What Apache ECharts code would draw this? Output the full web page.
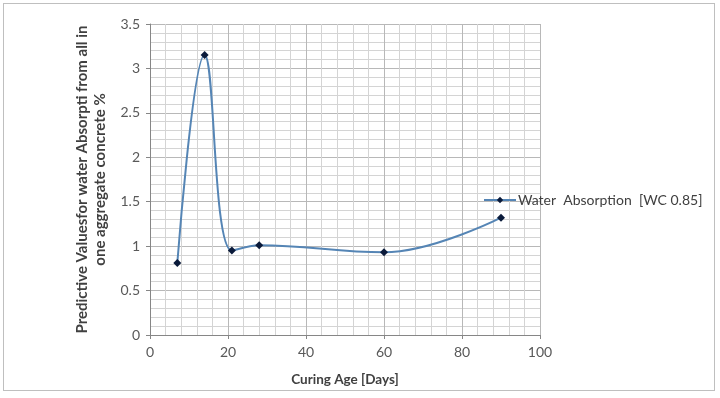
<!DOCTYPE html>
<html>
<head>
<meta charset="utf-8">
<script src="https://cdn.jsdelivr.net/npm/echarts@6/dist/echarts.min.js"></script>
<style>
  html, body { margin: 0; padding: 0; background: #fff; }
  #frame { position: absolute; left: 3px; top: 3px; width: 712px; height: 388px; border: 1px solid #bfbfbf; box-sizing: border-box; }
  #chart { width: 720px; height: 398px; }
</style>
</head>
<body>
<div id="frame"></div>
<div id="chart"></div>
<script>
// Curing age (days) and predicted water absorption (%)
const curingDays = [7, 14, 21, 28, 60, 90]
const absorption = [0.81, 3.15, 0.95, 1.01, 0.93, 1.32]
const seriesName = 'Water  Absorption  [WC 0.85]'

const chart = echarts.init(document.getElementById('chart'))
const font = 'Lato, "Open Sans", sans-serif'

const option = {
  animation: false,
  grid: { left: 150, right: 180, top: 24, bottom: 63 },
  legend: {
    left: 478,
    top: 188,
    itemWidth: 32,
    itemHeight: 8,
    itemGap: 4,
    textStyle: { fontFamily: font, fontSize: 14, color: '#404040', padding: [0, 0, 0, -3] },
    data: [seriesName]
  },
  xAxis: {
    type: 'value',
    min: 0,
    max: 100,
    interval: 20,
    name: 'Curing Age [Days]',
    nameLocation: 'middle',
    nameGap: 38,
    nameTextStyle: { fontFamily: font, fontSize: 13.5, fontWeight: 'bold', color: '#404040' },
    axisLine: { show: true, lineStyle: { color: '#868686' } },
    axisTick: { show: true, length: 4, lineStyle: { color: '#868686' } },
    axisLabel: { fontFamily: font, fontSize: 14, color: '#595959', margin: 10 },
    splitLine: { show: true, lineStyle: { color: '#b8b8b8' } },
    minorTick: { show: false, splitNumber: 5 },
    minorSplitLine: { show: true, lineStyle: { color: '#d4d4d4' } }
  },
  yAxis: {
    type: 'value',
    min: 0,
    max: 3.5,
    interval: 0.5,
    name: 'Predictive Valuesfor water Absorpti from all in\none aggregate concrete %',
    nameLocation: 'middle',
    nameGap: 36,
    nameTextStyle: { fontFamily: font, fontSize: 15, fontWeight: 'bold', color: '#404040', lineHeight: 18 },
    axisLine: { show: true, lineStyle: { color: '#868686' } },
    axisTick: { show: true, length: 4, lineStyle: { color: '#868686' } },
    axisLabel: { fontFamily: font, fontSize: 14, color: '#595959', margin: 10 },
    splitLine: { show: true, lineStyle: { color: '#b8b8b8' } },
    minorTick: { show: false, splitNumber: 5 },
    minorSplitLine: { show: true, lineStyle: { color: '#d4d4d4' } }
  },
  series: [{
    name: seriesName,
    type: 'line',
    smooth: 0.4,
    data: curingDays.map((d, i) => [d, absorption[i]]),
    symbol: 'diamond',
    symbolSize: 8,
    lineStyle: { color: '#5585b5', width: 2 },
    itemStyle: { color: '#0a1a3a' }
  }]
}

chart.setOption(option)
</script>
</body>
</html>
